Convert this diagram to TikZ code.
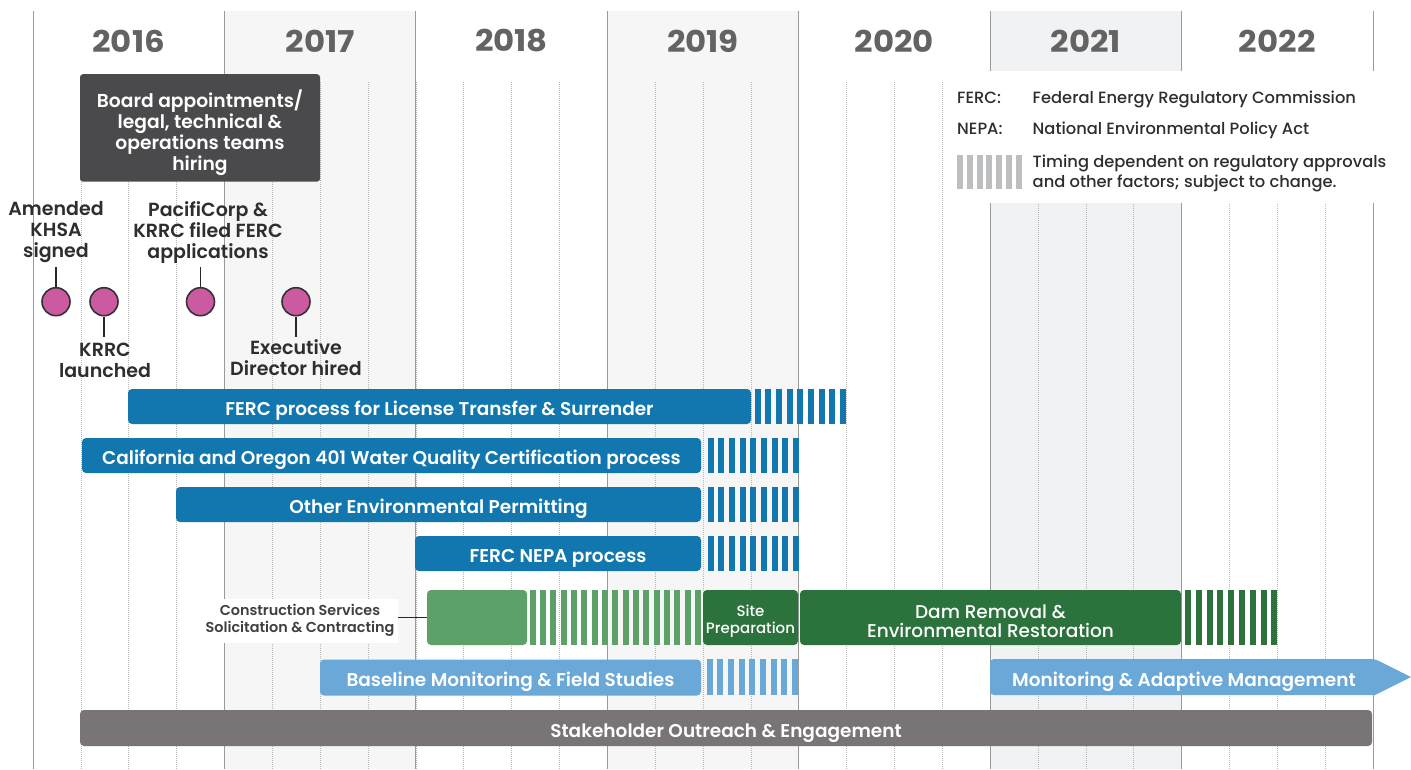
\documentclass[tikz,border=0pt]{standalone}
\usepackage{fontspec}
\setmainfont{Poppins}[BoldFont={Poppins SemiBold}]
\newfontfamily\heavy{Poppins Bold}
\newfontfamily\medium{Poppins Medium}
\definecolor{fblue}{HTML}{1177AE}
\definecolor{lblue}{HTML}{69A8D7}
\definecolor{lgreen}{HTML}{5CA167}
\definecolor{dgreen}{HTML}{2C723C}
\definecolor{sgray}{HTML}{797576}
\definecolor{boardc}{HTML}{4A4A4C}
\definecolor{pinkc}{HTML}{CC5AA0}
\definecolor{yeargray}{HTML}{636363}
\definecolor{txt}{HTML}{2E2E2E}
\definecolor{shadeA}{HTML}{F6F6F6}
\definecolor{shadeB}{HTML}{F1F2F4}
\definecolor{hatchgray}{HTML}{BDBEC0}
\definecolor{gridc}{HTML}{9A9A9A}
\definecolor{qgrid}{HTML}{B8B8B8}
\newcommand\hatchstripes[6]{\foreach \i in {1,...,#5} \fill[#1] ({#2+(\i-1)*#6},#3) rectangle ++(6,#4);}
\begin{document}
\begin{tikzpicture}[x=1pt,y=-1pt,
  yline/.style={draw=gridc, line width=0.9},
  qline/.style={draw=qgrid, line width=0.7, dash pattern=on 1pt off 1pt},
  yearlbl/.style={font=\fontsize{30}{31}\selectfont\heavy, text=yeargray, inner sep=0},
  legtxt/.style={font=\fontsize{16.3}{18}\selectfont\medium, text=txt, inner sep=0},
  boardbox/.style={rectangle, rounded corners=3, fill=boardc, minimum width=240, minimum height=107.5, inner sep=0},
  boardtxt/.style={font=\fontsize{18.7}{21}\selectfont\bfseries, text=white, align=center, inner sep=0},
  mcirc/.style={circle, fill=pinkc, draw=black!80, line width=1.6, minimum size=28, inner sep=0},
  stem/.style={draw=black!85, line width=1.8},
  mlbl/.style={font=\fontsize{19}{21}\selectfont\bfseries, text=txt, align=center, inner sep=0},
  tbar/.style={rectangle, rounded corners=4, inner sep=0, text=white, text height=18pt, text depth=0pt, font=\fontsize{18.5}{20}\selectfont\bfseries},
  boxonly/.style={rectangle, rounded corners=4, inner sep=0},
  smalltxt/.style={font=\fontsize{15}{17.3}\selectfont\medium, text=white, align=center, inner sep=0},
  damtxt/.style={font=\fontsize{18.5}{19}\selectfont\medium, text=white, align=center, inner sep=0},
  cslbl/.style={font=\fontsize{14.4}{17}\selectfont\bfseries, text=black!75, fill=white, align=center, inner sep=0, minimum width=196, minimum height=44},
  conn/.style={draw=black!85, line width=1.5}]
\useasboundingbox (0,0) rectangle (1411,769);
\fill[white] (0,0) rectangle (1411,769);
% shaded years
\fill[shadeA] (224.43,11) rectangle (415.86,769);
\fill[shadeA] (607.29,11) rectangle (798.71,769);
\fill[shadeB] (990.14,11) rectangle (1181.57,769);
% grid
\foreach \k in {1,...,27} \draw[qline] ({33+47.857*\k},82) -- ({33+47.857*\k},769);
\foreach \k in {0,...,7} \draw[yline] ({33+191.43*\k},11) -- ({33+191.43*\k},769);
% years
\foreach \yr [count=\i from 0] in {2016,2017,2018,2019,2020,2021,2022}
  \node[yearlbl] (yr\yr) at ({33+191.43*(\i+0.5)},41) {\scalebox{1.08}[1]{\yr}};
% legend
\fill[white] (946,70.7) rectangle (1411,203);
\node[legtxt,anchor=base west] (lgF) at (957,103.3) {FERC:};
\node[legtxt,anchor=base west] (lgFt) at (1032.5,103.3) {Federal Energy Regulatory Commission};
\node[legtxt,anchor=base west] (lgN) at (957,134) {NEPA:};
\node[legtxt,anchor=base west] (lgNt) at (1032.5,134) {National Environmental Policy Act};
\hatchstripes{hatchgray}{957}{155}{34.3}{7}{9.8}
\node[legtxt,anchor=base west] (lgH1) at (1032.5,167.5) {Timing dependent on regulatory approvals};
\node[legtxt,anchor=base west] (lgH2) at (1032.5,187.8) {and other factors; subject to change.};
% board
\node[boardbox] (board) at (200,127.9) {};
\node[boardtxt] (boardt) at (200,132.5) {Board appointments/\\legal, technical \&\\operations teams\\hiring};
% milestones
\node[mcirc] (m1) at (56,301.7) {};
\node[mcirc] (m2) at (104,301.7) {};
\node[mcirc] (m3) at (200.5,301.7) {};
\node[mcirc] (m4) at (296,301.7) {};
\coordinate (m1t) at (56,267);
\coordinate (m2b) at (104,337);
\coordinate (m3t) at (200.5,267);
\coordinate (m4b) at (296,337);
\draw[stem] (m1.north) -- (m1t);
\draw[stem] (m2.south) -- (m2b);
\draw[stem] (m3.north) -- (m3t);
\draw[stem] (m4.south) -- (m4b);
\node[mlbl] (l1) at (56,232.5) {Amended\\KHSA\\signed};
\node[mlbl] (l2) at (105,360.5) {KRRC\\launched};
\node[mlbl] (l3) at (208,232.5) {PacifiCorp \&\\KRRC filed FERC\\applications};
\node[mlbl] (l4) at (296,358) {Executive\\Director hired};
% blue bars
\node[tbar, fill=fblue, minimum width=623, minimum height=35] (ferc) at (439.5,406.5) {FERC process for License Transfer \& Surrender};
\hatchstripes{fblue}{754.7}{389}{35}{9}{10.67}
\node[tbar, fill=fblue, minimum width=619, minimum height=35] (calif) at (391.5,455.5) {California and Oregon 401 Water Quality Certification process};
\hatchstripes{fblue}{707.5}{438}{35}{9}{10.67}
\node[tbar, fill=fblue, minimum width=525, minimum height=35] (other) at (438.5,504.5) {Other Environmental Permitting};
\hatchstripes{fblue}{707.5}{487}{35}{9}{10.67}
\node[tbar, fill=fblue, minimum width=286, minimum height=35] (nepa) at (558,553.5) {FERC NEPA process};
\hatchstripes{fblue}{707.5}{536}{35}{9}{10.67}
% green bars
\node[boxonly, fill=lgreen, minimum width=100, minimum height=55] (csbar) at (477,617.5) {};
\hatchstripes{lgreen}{529.5}{590}{55}{17}{10.35}
\node[boxonly, fill=dgreen, minimum width=95, minimum height=55] (site) at (750.5,617.5) {};
\node[smalltxt] (sitet) at (750.5,621) {Site\\Preparation};
\node[boxonly, fill=dgreen, minimum width=381, minimum height=55] (dam) at (990.5,617.5) {};
\node[damtxt] (damt) at (990.5,621) {Dam Removal \&\\Environmental Restoration};
\hatchstripes{dgreen}{1185}{590}{55}{9}{10.8}
\node[cslbl] (cs) at (300,620.5) {Construction Services\\Solicitation \& Contracting};
\draw[conn] (cs.east |- csbar.west) -- (csbar.west);
% light blue bars
\node[tbar, fill=lblue, minimum width=381, minimum height=36] (base) at (510.5,677.5) {Baseline Monitoring \& Field Studies};
\hatchstripes{lblue}{706.5}{659}{36}{9}{10.67}
\path[fill=lblue, rounded corners=4] (990,677) |- (1375,659) [sharp corners] -- (1411,677) -- (1375,695) [rounded corners=4] -| (990,677) -- cycle;
\node[tbar] (monit) at (1184,677) {Monitoring \& Adaptive Management};
% stakeholder
\node[tbar, fill=sgray, minimum width=1292, minimum height=36] (stake) at (726,728) {Stakeholder Outreach \& Engagement};
\end{tikzpicture}
\end{document}
